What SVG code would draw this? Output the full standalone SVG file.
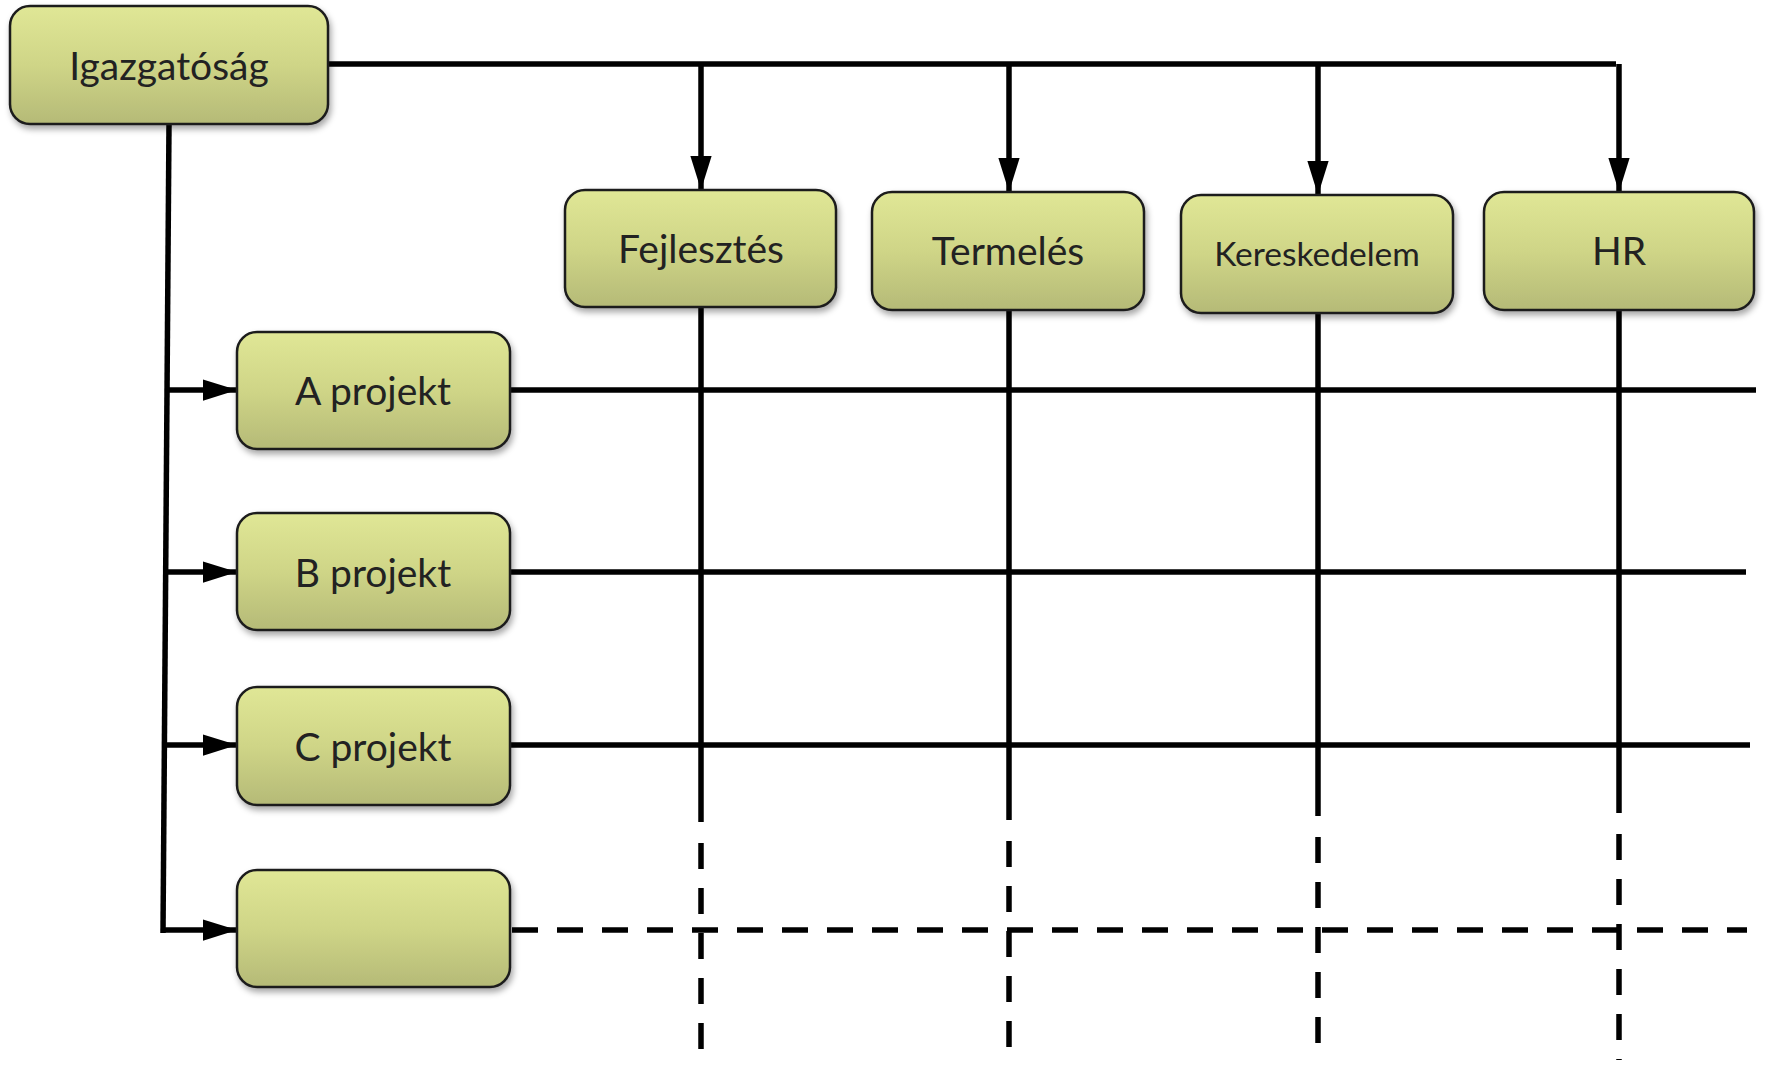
<svg xmlns="http://www.w3.org/2000/svg" width="1765" height="1065" viewBox="0 0 1765 1065">
  <defs>
    <linearGradient id="boxFill" x1="0" y1="0" x2="0" y2="1">
      <stop offset="0" stop-color="#e0e796"/>
      <stop offset="0.5" stop-color="#cfd587"/>
      <stop offset="1" stop-color="#b5ba77"/>
    </linearGradient>
    <filter id="shadow" x="-10%" y="-10%" width="125%" height="135%">
      <feDropShadow dx="2" dy="4" stdDeviation="3" flood-color="#000" flood-opacity="0.35"/>
    </filter>
    <marker id="arrow" markerUnits="userSpaceOnUse" markerWidth="34" markerHeight="22" viewBox="0 0 32 20" refX="32" refY="10" orient="auto">
      <path d="M0,0 L32,10 L0,20 Z" fill="#000"/>
    </marker>
    <style>
      .box { fill: url(#boxFill); stroke: #1c1c1c; stroke-width: 2.5; filter: url(#shadow); }
      .label { font-family: Lato, "Open Sans", "Liberation Sans", sans-serif; font-size: 39px; fill: #222; text-anchor: middle; }
      .small { font-size: 33.5px; }
      .line { fill: none; stroke: #000; stroke-width: 5.5; }
      .dash { stroke-dasharray: 26 19; }
    </style>
  </defs>

  <rect width="1765" height="1065" fill="#fff"/>

  <!-- connectors -->
  <g id="connectors">
    <!-- top bus from the board to the departments -->
    <path class="line" d="M328,64 H1616"/>
    <path class="line" d="M701,64 V190" marker-end="url(#arrow)"/>
    <path class="line" d="M1009,64 V192" marker-end="url(#arrow)"/>
    <path class="line" d="M1318,64 V195" marker-end="url(#arrow)"/>
    <path class="line" d="M1619,64 V192" marker-end="url(#arrow)"/>

    <!-- left trunk to the projects -->
    <path class="line" d="M169,124 L163,933"/>
    <path class="line" d="M167,390 H237" marker-end="url(#arrow)"/>
    <path class="line" d="M166,572 H237" marker-end="url(#arrow)"/>
    <path class="line" d="M164,745 H237" marker-end="url(#arrow)"/>
    <path class="line" d="M161,930 H237" marker-end="url(#arrow)"/>

    <!-- department columns -->
    <path class="line" d="M701,307 V822"/>
    <path class="line dash" d="M701,843 V1055"/>
    <path class="line" d="M1009,310 V820"/>
    <path class="line dash" d="M1009,841 V1055"/>
    <path class="line" d="M1318,313 V816"/>
    <path class="line dash" d="M1318,837 V1055"/>
    <path class="line" d="M1619,310 V813"/>
    <path class="line dash" d="M1619,834 V1060"/>

    <!-- project rows -->
    <path class="line" d="M510,390 H1756"/>
    <path class="line" d="M510,572 H1746"/>
    <path class="line" d="M510,745 H1750"/>
    <path class="line dash" d="M512,930 H1747"/>
  </g>

  <g id="igazgatosag">
    <rect class="box" x="10" y="6" width="318" height="118" rx="20"/>
    <text class="label" x="169" y="80">Igazgatóság</text>
  </g>

  <g id="fejlesztes">
    <rect class="box" x="565" y="190" width="271" height="117" rx="20"/>
    <text class="label" x="701" y="263">Fejlesztés</text>
  </g>

  <g id="termeles">
    <rect class="box" x="872" y="192" width="272" height="118" rx="20"/>
    <text class="label" x="1008" y="265">Termelés</text>
  </g>

  <g id="kereskedelem">
    <rect class="box" x="1181" y="195" width="272" height="118" rx="20"/>
    <text class="label small" x="1317" y="266">Kereskedelem</text>
  </g>

  <g id="hr">
    <rect class="box" x="1484" y="192" width="270" height="118" rx="20"/>
    <text class="label" x="1619" y="265">HR</text>
  </g>

  <g id="a-projekt">
    <rect class="box" x="237" y="332" width="273" height="117" rx="20"/>
    <text class="label" x="373" y="405">A projekt</text>
  </g>

  <g id="b-projekt">
    <rect class="box" x="237" y="513" width="273" height="117" rx="20"/>
    <text class="label" x="373" y="587">B projekt</text>
  </g>

  <g id="c-projekt">
    <rect class="box" x="237" y="687" width="273" height="118" rx="20"/>
    <text class="label" x="373" y="761">C projekt</text>
  </g>

  <g id="uj-projekt">
    <rect class="box" x="237" y="870" width="273" height="117" rx="20"/>
  </g>
</svg>
